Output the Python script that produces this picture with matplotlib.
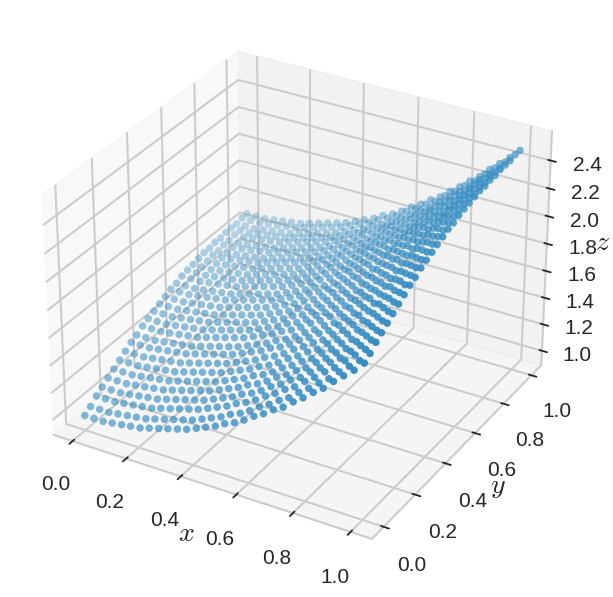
import numpy as np
import matplotlib
matplotlib.use('Agg')
import matplotlib.pyplot as plt
import seaborn as sns

x_grid = [0.000, 0.034, 0.069, 0.103, 0.138, 0.172, 0.207, 0.241, 0.276, 0.310,
          0.345, 0.379, 0.414, 0.448, 0.483, 0.517, 0.552, 0.586, 0.621, 0.655,
          0.690, 0.724, 0.759, 0.793, 0.828, 0.862, 0.897, 0.931, 0.966, 1.000]
y_grid = list(x_grid)

# z, one row per y value, x runs along the row
z_rows = [
    [1.00,1.00,1.00,1.01,1.02,1.03,1.04,1.06,1.08,1.10,1.12,1.14,1.17,1.20,1.23,1.27,1.30,1.34,1.39,1.43,1.48,1.52,1.58,1.63,1.69,1.74,1.81,1.87,1.93,2.00],
    [1.03,1.03,1.03,1.04,1.05,1.06,1.07,1.09,1.11,1.13,1.15,1.17,1.20,1.23,1.26,1.30,1.33,1.37,1.42,1.46,1.51,1.55,1.61,1.66,1.72,1.77,1.84,1.90,1.96,2.03],
    [1.07,1.07,1.07,1.08,1.09,1.10,1.11,1.13,1.15,1.17,1.19,1.21,1.24,1.27,1.30,1.34,1.37,1.41,1.46,1.50,1.55,1.59,1.65,1.70,1.76,1.81,1.88,1.94,2.00,2.07],
    [1.10,1.10,1.10,1.11,1.12,1.13,1.14,1.16,1.18,1.20,1.22,1.24,1.27,1.30,1.33,1.37,1.40,1.44,1.49,1.53,1.58,1.62,1.68,1.73,1.79,1.84,1.91,1.97,2.03,2.10],
    [1.13,1.13,1.13,1.14,1.15,1.16,1.17,1.19,1.21,1.23,1.25,1.27,1.30,1.33,1.36,1.40,1.43,1.47,1.52,1.56,1.61,1.65,1.71,1.76,1.82,1.87,1.94,2.00,2.06,2.13],
    [1.16,1.16,1.16,1.17,1.18,1.19,1.20,1.22,1.24,1.26,1.28,1.30,1.33,1.36,1.39,1.43,1.46,1.50,1.55,1.59,1.64,1.68,1.74,1.79,1.85,1.90,1.97,2.03,2.09,2.16],
    [1.19,1.19,1.19,1.20,1.21,1.22,1.23,1.25,1.27,1.29,1.31,1.33,1.36,1.39,1.42,1.46,1.49,1.53,1.58,1.62,1.67,1.71,1.77,1.82,1.88,1.93,2.00,2.06,2.12,2.19],
    [1.22,1.22,1.22,1.23,1.24,1.25,1.26,1.28,1.30,1.32,1.34,1.36,1.39,1.42,1.45,1.49,1.52,1.56,1.61,1.65,1.70,1.74,1.80,1.85,1.91,1.96,2.03,2.09,2.15,2.22],
    [1.25,1.25,1.25,1.26,1.27,1.28,1.29,1.31,1.33,1.35,1.37,1.39,1.42,1.45,1.48,1.52,1.55,1.59,1.64,1.68,1.73,1.77,1.83,1.88,1.94,1.99,2.06,2.12,2.18,2.25],
    [1.27,1.27,1.27,1.28,1.29,1.30,1.31,1.33,1.35,1.37,1.39,1.41,1.44,1.47,1.50,1.54,1.57,1.61,1.66,1.70,1.75,1.79,1.85,1.90,1.96,2.01,2.08,2.14,2.20,2.27],
    [1.30,1.30,1.30,1.31,1.32,1.33,1.34,1.36,1.38,1.40,1.42,1.44,1.47,1.50,1.53,1.57,1.60,1.64,1.69,1.73,1.78,1.82,1.88,1.93,1.99,2.04,2.11,2.17,2.23,2.30],
    [1.32,1.32,1.32,1.33,1.34,1.35,1.36,1.38,1.40,1.42,1.44,1.46,1.49,1.52,1.55,1.59,1.62,1.66,1.71,1.75,1.80,1.84,1.90,1.95,2.01,2.06,2.13,2.19,2.25,2.32],
    [1.34,1.34,1.34,1.35,1.36,1.37,1.38,1.40,1.42,1.44,1.46,1.48,1.51,1.54,1.57,1.61,1.64,1.68,1.73,1.77,1.82,1.86,1.92,1.97,2.03,2.08,2.15,2.21,2.27,2.34],
    [1.36,1.36,1.36,1.37,1.38,1.39,1.40,1.42,1.44,1.46,1.48,1.50,1.53,1.56,1.59,1.63,1.66,1.70,1.75,1.79,1.84,1.88,1.94,1.99,2.05,2.10,2.17,2.23,2.29,2.36],
    [1.38,1.38,1.38,1.39,1.40,1.41,1.42,1.44,1.46,1.48,1.50,1.52,1.55,1.58,1.61,1.65,1.68,1.72,1.77,1.81,1.86,1.90,1.96,2.01,2.07,2.12,2.19,2.25,2.31,2.38],
    [1.40,1.40,1.40,1.41,1.42,1.43,1.44,1.46,1.48,1.50,1.52,1.54,1.57,1.60,1.63,1.67,1.70,1.74,1.79,1.83,1.88,1.92,1.98,2.03,2.09,2.14,2.21,2.27,2.33,2.40],
    [1.41,1.41,1.41,1.42,1.43,1.44,1.45,1.47,1.49,1.51,1.53,1.55,1.58,1.61,1.64,1.68,1.71,1.75,1.80,1.84,1.89,1.93,1.99,2.04,2.10,2.15,2.22,2.28,2.34,2.41],
    [1.43,1.43,1.43,1.44,1.45,1.46,1.47,1.49,1.51,1.53,1.55,1.57,1.60,1.63,1.66,1.70,1.73,1.77,1.82,1.86,1.91,1.95,2.01,2.06,2.12,2.17,2.24,2.30,2.36,2.43],
    [1.44,1.44,1.44,1.45,1.46,1.47,1.48,1.50,1.52,1.54,1.56,1.58,1.61,1.64,1.67,1.71,1.74,1.78,1.83,1.87,1.92,1.96,2.02,2.07,2.13,2.18,2.25,2.31,2.37,2.44],
    [1.45,1.45,1.45,1.46,1.47,1.48,1.49,1.51,1.53,1.55,1.57,1.59,1.62,1.65,1.68,1.72,1.75,1.79,1.84,1.88,1.93,1.97,2.03,2.08,2.14,2.19,2.26,2.32,2.38,2.45],
    [1.46,1.46,1.46,1.47,1.48,1.49,1.50,1.52,1.54,1.56,1.58,1.60,1.63,1.66,1.69,1.73,1.76,1.80,1.85,1.89,1.94,1.98,2.04,2.09,2.15,2.20,2.27,2.33,2.39,2.46],
    [1.47,1.47,1.47,1.48,1.49,1.50,1.51,1.53,1.55,1.57,1.59,1.61,1.64,1.67,1.70,1.74,1.77,1.81,1.86,1.90,1.95,1.99,2.05,2.10,2.16,2.21,2.28,2.34,2.40,2.47],
    [1.47,1.47,1.47,1.48,1.49,1.50,1.51,1.53,1.55,1.57,1.59,1.61,1.64,1.67,1.70,1.74,1.77,1.81,1.86,1.90,1.95,1.99,2.05,2.10,2.16,2.21,2.28,2.34,2.40,2.47],
    [1.48,1.48,1.48,1.49,1.50,1.51,1.52,1.54,1.56,1.58,1.60,1.62,1.65,1.68,1.71,1.75,1.78,1.82,1.87,1.91,1.96,2.00,2.06,2.11,2.17,2.22,2.29,2.35,2.41,2.48],
    [1.48,1.48,1.48,1.49,1.50,1.51,1.52,1.54,1.56,1.58,1.60,1.62,1.65,1.68,1.71,1.75,1.78,1.82,1.87,1.91,1.96,2.00,2.06,2.11,2.17,2.22,2.29,2.35,2.41,2.48],
    [1.49,1.49,1.49,1.50,1.51,1.52,1.53,1.55,1.57,1.59,1.61,1.63,1.66,1.69,1.72,1.76,1.79,1.83,1.88,1.92,1.97,2.01,2.07,2.12,2.18,2.23,2.30,2.36,2.42,2.49],
    [1.49,1.49,1.49,1.50,1.51,1.52,1.53,1.55,1.57,1.59,1.61,1.63,1.66,1.69,1.72,1.76,1.79,1.83,1.88,1.92,1.97,2.01,2.07,2.12,2.18,2.23,2.30,2.36,2.42,2.49],
    [1.49,1.49,1.49,1.50,1.51,1.52,1.53,1.55,1.57,1.59,1.61,1.63,1.66,1.69,1.72,1.76,1.79,1.83,1.88,1.92,1.97,2.01,2.07,2.12,2.18,2.23,2.30,2.36,2.42,2.49],
    [1.50,1.50,1.50,1.51,1.52,1.53,1.54,1.56,1.58,1.60,1.62,1.64,1.67,1.70,1.73,1.77,1.80,1.84,1.89,1.93,1.98,2.02,2.08,2.13,2.19,2.24,2.31,2.37,2.43,2.50],
    [1.50,1.50,1.50,1.51,1.52,1.53,1.54,1.56,1.58,1.60,1.62,1.64,1.67,1.70,1.73,1.77,1.80,1.84,1.89,1.93,1.98,2.02,2.08,2.13,2.19,2.24,2.31,2.37,2.43,2.50],
]

xticks = [0, 0.2, 0.4, 0.6, 0.8, 1.0]
yticks = [0, 0.2, 0.4, 0.6, 0.8, 1.0]
zticks = [1.0, 1.2, 1.4, 1.6, 1.8, 2.0, 2.2, 2.4]

sns.set_theme(style='whitegrid')
plt.rcParams['font.family'] = ['Liberation Sans', 'DejaVu Sans']
plt.rcParams['mathtext.fontset'] = 'cm'
plt.rcParams['grid.linewidth'] = 1.5
plt.rcParams['xtick.major.width'] = 1.3
plt.rcParams['ytick.major.width'] = 1.3
plt.rcParams['axes.linewidth'] = 1.5

X, Y = np.meshgrid(x_grid, y_grid)
Z = np.array(z_rows)

fig = plt.figure(figsize=(6.13, 5.97), dpi=100)
w, h = 0.976*0.99, 0.96*0.99
ax = fig.add_axes([(296.6-2.5)/613-w/2, 1-(288+3)/597-h/2, w, h], projection='3d')
ax.scatter(X.ravel(), Y.ravel(), Z.ravel(), color=(0.2, 0.55, 0.76, 1.0), s=29, linewidths=0)
ax.set_xlim(-0.073, 1.073)
ax.set_ylim(-0.073, 1.073)
ax.set_zlim(0.89, 2.61)
ax.set_xticks(xticks)
ax.set_yticks(yticks)
ax.set_zticks(zticks)
ax.tick_params(labelsize=15, pad=10)
ax.tick_params(axis='z', pad=8)
ax.set_xlabel('$x$', fontsize=20)
ax.set_ylabel('$y$', fontsize=20)
ax.set_zlabel('$z$', fontsize=20)
fig.savefig('out.png', dpi=100)
